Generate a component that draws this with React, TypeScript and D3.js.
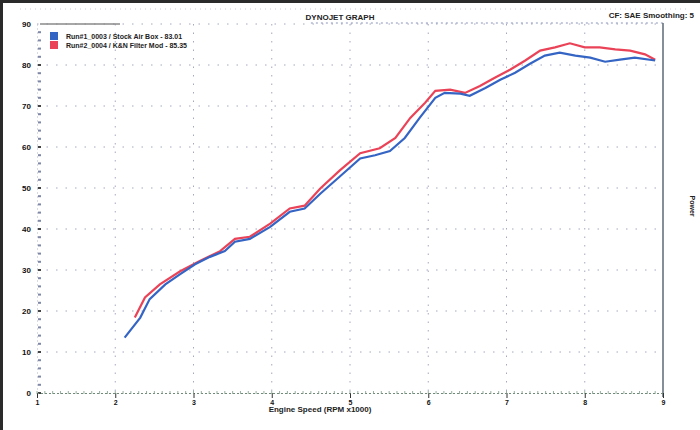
import React, { useEffect, useRef } from "react";
import * as d3 from "d3";

// engine speed (RPM x1000) and power readings for the two runs
const blueRpm = [2.12, 2.32, 2.44, 2.64, 2.83, 3.02, 3.21, 3.4, 3.53, 3.72, 3.98, 4.23, 4.42, 4.62, 4.87, 5.13, 5.32, 5.51, 5.7, 5.89, 6.09, 6.21, 6.41, 6.53, 6.73, 6.92, 7.11, 7.3, 7.49, 7.68, 7.88, 8.07, 8.26, 8.45, 8.64, 8.9];
const bluePower = [13.5, 18.4, 22.9, 26.5, 29.0, 31.4, 33.2, 34.6, 36.9, 37.6, 40.5, 44.2, 45.0, 48.6, 52.8, 57.2, 58.0, 59.0, 62.2, 67.1, 72.0, 73.2, 73.0, 72.5, 74.4, 76.4, 78.1, 80.3, 82.3, 83.0, 82.3, 81.8, 80.8, 81.3, 81.8, 81.1];
const redRpm = [2.25, 2.38, 2.57, 2.83, 3.08, 3.34, 3.53, 3.72, 3.98, 4.23, 4.42, 4.62, 4.87, 5.13, 5.38, 5.58, 5.77, 5.96, 6.09, 6.28, 6.47, 6.66, 6.85, 7.05, 7.24, 7.43, 7.62, 7.81, 8.0, 8.19, 8.39, 8.58, 8.77, 8.9];
const redPower = [18.4, 23.3, 26.5, 29.7, 32.2, 34.6, 37.6, 38.1, 41.3, 45.0, 45.7, 49.9, 54.3, 58.5, 59.7, 62.2, 67.1, 70.8, 73.7, 74.0, 73.2, 74.9, 76.9, 78.9, 81.1, 83.5, 84.3, 85.3, 84.3, 84.3, 83.8, 83.5, 82.6, 81.3];

const xTicks = [1, 2, 3, 4, 5, 6, 7, 8, 9];
const yTicks = [0, 10, 20, 30, 40, 50, 60, 70, 80, 90];
const legendLabels = ["Run#1_0003 / Stock Air Box - 83.01", "Run#2_0004 / K&N Filter Mod - 85.35"];
const colors = ["#3565c4", "#ea4358"];

export default function App() {
  const svgRef = useRef<SVGSVGElement>(null);

  useEffect(() => {
    const svg = d3.select(svgRef.current);
    svg.selectAll("*").remove();

    const margin = { top: 24, right: 37, bottom: 37, left: 37 },
      width = 700,
      height = 430;

    const x = d3.scaleLinear().domain([1, 9]).range([margin.left, width - margin.right]);
    const y = d3.scaleLinear().domain([0, 90]).range([height - margin.bottom, margin.top]);

    svg.append("rect").attr("width", width).attr("height", height).attr("fill", "#fff");

    // outer frame (top + left)
    svg.append("line").attr("x1", 0).attr("x2", width).attr("y1", 1.5).attr("y2", 1.5)
      .attr("stroke", "#2a2a2a").attr("stroke-width", 3);
    svg.append("line").attr("x1", 1.5).attr("x2", 1.5).attr("y1", 0).attr("y2", height)
      .attr("stroke", "#2a2a2a").attr("stroke-width", 3);

    // faint dotted line near top
    svg.append("line").attr("x1", 20).attr("x2", 690).attr("y1", 9).attr("y2", 9)
      .attr("stroke", "#c8cbd8").attr("stroke-dasharray", "1,4");

    // grid
    const grid = svg.append("g");
    xTicks.slice(1, -1).forEach((t) => {
      grid.append("line").attr("x1", x(t)).attr("x2", x(t))
        .attr("y1", y(90)).attr("y2", y(0))
        .attr("stroke", "#a4a9bf").attr("stroke-dasharray", "1.5,7");
    });
    yTicks.slice(1).forEach((t) => {
      grid.append("line").attr("x1", x(1)).attr("x2", x(9))
        .attr("y1", y(t)).attr("y2", y(t))
        .attr("stroke", "#a4a9bf").attr("stroke-dasharray", "1.5,8");
    });

    // plot top and right border
    svg.append("line").attr("x1", x(4.5)).attr("x2", x(9)).attr("y1", y(90) - 1).attr("y2", y(90) - 1)
      .attr("stroke", "#8a93b8").attr("stroke-dasharray", "2,3");
    svg.append("line").attr("x1", x(9)).attr("x2", x(9)).attr("y1", y(90) - 1).attr("y2", y(0) + 4)
      .attr("stroke", "#5d6a78").attr("stroke-width", 1.5);

    // left axis
    const yAxis = d3.axisLeft(y).tickValues(yTicks).tickSize(0).tickPadding(6);
    const gy = svg.append("g").attr("transform", `translate(${x(1)},0)`).call(yAxis);
    gy.select(".domain").attr("stroke", "#b0b4c8").attr("stroke-dasharray", "1,3");
    gy.selectAll("text").attr("font-family", "Liberation Sans, Arial, sans-serif")
      .attr("font-size", 8).attr("font-weight", "bold").attr("fill", "#111");
    d3.range(0, 90, 2).forEach((v) => {
      gy.append("rect").attr("x", 1).attr("y", y(v) - 1).attr("width", 3).attr("height", 2)
        .attr("fill", v % 10 === 0 ? "#444" : "#8088a8");
    });
    // top legend dash
    svg.append("line").attr("x1", x(1) + 3).attr("x2", 120).attr("y1", y(90)).attr("y2", y(90))
      .attr("stroke", "#8a8a8a").attr("stroke-width", 1.5);

    // bottom axis
    const xAxis = d3.axisBottom(x).tickValues(xTicks).tickSize(5).tickPadding(2);
    const gx = svg.append("g").attr("transform", `translate(0,${y(0)})`).call(xAxis);
    gx.select(".domain").attr("stroke", "#6f8a78").attr("stroke-dasharray", "2,2");
    gx.selectAll(".tick line").attr("stroke", "#333");
    gx.selectAll("text").attr("font-family", "Liberation Sans, Arial, sans-serif")
      .attr("font-size", 7).attr("font-weight", "bold").attr("fill", "#111");
    d3.range(1, 9, 0.1).forEach((v) => {
      gx.append("line").attr("x1", x(v)).attr("x2", x(v)).attr("y1", -2).attr("y2", 1)
        .attr("stroke", "#7f9a88").attr("stroke-width", 0.8);
    });

    // titles
    const font = "Liberation Sans, Arial, sans-serif";
    svg.append("text").attr("x", 340).attr("y", 20).attr("text-anchor", "middle")
      .attr("font-family", font).attr("font-size", 8).attr("font-weight", "bold")
      .attr("fill", "#222").text("DYNOJET GRAPH");
    svg.append("text").attr("x", 694).attr("y", 18).attr("text-anchor", "end")
      .attr("font-family", font).attr("font-size", 8).attr("font-weight", "bold")
      .attr("fill", "#222").text("CF: SAE Smoothing: 5");
    svg.append("text").attr("x", 320).attr("y", 412).attr("text-anchor", "middle")
      .attr("font-family", font).attr("font-size", 8).attr("font-weight", "bold")
      .attr("fill", "#222").text("Engine Speed (RPM x1000)");
    svg.append("text").attr("transform", "translate(690,206) rotate(90)").attr("text-anchor", "middle")
      .attr("font-family", font).attr("font-size", 7).attr("font-weight", "bold")
      .attr("fill", "#222").text("Power");

    // lines
    const line = d3.line<[number, number]>().x((d) => x(d[0])).y((d) => y(d[1]));
    const series = [
      d3.zip(redRpm, redPower) as [number, number][],
      d3.zip(blueRpm, bluePower) as [number, number][],
    ];
    svg.append("path").datum(series[0]).attr("fill", "none").attr("stroke", colors[1])
      .attr("stroke-width", 2.2).attr("d", line);
    svg.append("path").datum(series[1]).attr("fill", "none").attr("stroke", colors[0])
      .attr("stroke-width", 2.2).attr("d", line);

    // legend
    legendLabels.forEach((lab, i) => {
      svg.append("rect").attr("x", 50).attr("y", 32 + i * 9).attr("width", 8).attr("height", 8)
        .attr("fill", colors[i]);
      svg.append("text").attr("x", 66).attr("y", 39 + i * 9).attr("font-family", font)
        .attr("font-size", 7).attr("font-weight", "bold").attr("fill", "#222").text(lab);
    });
  }, []);

  return (
    <div style={{ position: "absolute", left: 0, top: 0 }}>
      <svg ref={svgRef} width={700} height={430}></svg>
    </div>
  );
}
